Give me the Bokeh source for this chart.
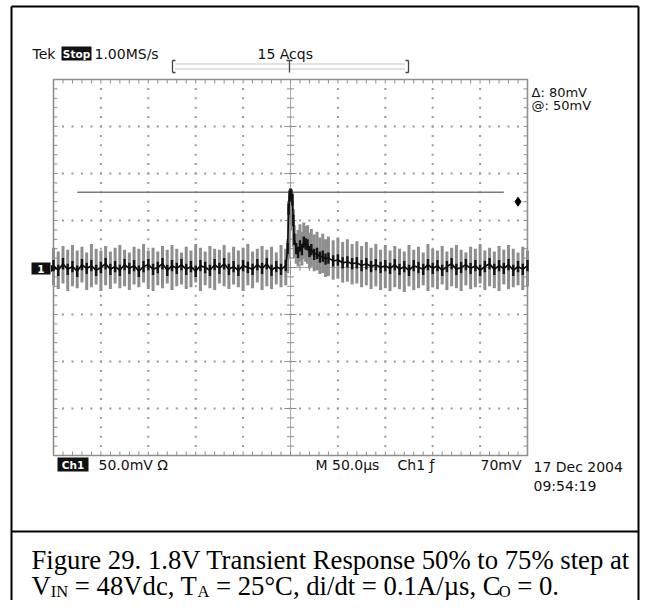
import math
from bokeh.plotting import figure
from bokeh.models import Range1d
from bokeh.core.properties import value
from bokeh.embed import file_html
from bokeh.resources import INLINE

# ---------------- data (time in microseconds, voltage in mV, 0 = Ch1 level) ----------------
pre_t = [-250, -245, -240, -235, -230, -225, -220, -215, -210, -205,
         -200, -195, -190, -185, -180, -175, -170, -165, -160, -155,
         -150, -145, -140, -135, -130, -125, -120, -115, -110, -105,
         -100, -95, -90, -85, -80, -75, -70, -65, -60, -55,
         -50, -45, -40, -35, -30, -25, -20, -15, -10, -5]
pre_hi = [21, 17, 23, 19, 24, 18, 22, 16, 25, 20, 18, 23, 17, 21, 24, 19, 16, 22, 20, 25,
          18, 21, 17, 23, 19, 24, 20, 16, 22, 18, 25, 21, 17, 23, 20, 19, 24, 16, 22, 18,
          21, 25, 17, 20, 23, 19, 22, 16, 24, 20]
pre_lo = [-19, -23, -17, -25, -20, -22, -16, -24, -21, -18, -25, -19, -23, -17, -22, -20, -24, -18, -21, -16,
          -23, -25, -19, -22, -17, -24, -20, -18, -23, -21, -16, -25, -19, -22, -24, -17, -20, -23, -18, -21,
          -25, -19, -22, -16, -24, -20, -23, -18, -21, -19]
pre_core = [2, -3, 4, -2, 1, -4, 3, -1, 2, -3, 0, 4, -2, 1, -3, 3, -1, 2, -4, 1,
            3, -2, 0, 4, -3, 2, -1, 3, -2, 1, -4, 2, 0, -3, 3, -1, 4, -2, 1, -3,
            2, 0, -2, 3, -1, 4, -3, 1, -2, 2]

post_t = [-3, -2, -1, 0, 1, 2, 3, 4, 6, 8, 10, 12, 14, 16, 18, 20, 22, 25, 28, 31, 34, 37, 40,
          45, 50, 55, 60, 65, 70, 75, 80, 85, 90, 95, 100, 105, 110, 115, 120, 125, 130, 135, 140,
          145, 150, 155, 160, 165, 170, 175, 180, 185, 190, 195, 200, 205, 210, 215, 220, 225, 230,
          235, 240, 245, 250]
post_hi = [30, 70, 82, 84, 82, 80, 62, 45, 36, 40, 46, 38, 48, 44, 45, 37, 41, 35, 38, 32, 36, 30, 33,
           29, 32, 27, 30, 25, 28, 23, 27, 21, 25, 19, 24, 18, 23, 20, 17, 24, 19, 22, 16,
           25, 20, 18, 23, 17, 21, 24, 19, 16, 22, 20, 25, 18, 21, 17, 23, 19, 24, 20, 16, 22, 18]
post_lo = [-6, 10, 45, 60, 55, 40, 22, 10, 4, 1, 6, 2, 9, 6, 4, -1, 1, -4, -3, -7, -6, -10, -9,
           -13, -12, -16, -15, -18, -17, -21, -19, -23, -20, -24, -22, -25, -21, -23, -26, -20, -24, -22, -19,
           -25, -21, -23, -18, -24, -20, -22, -25, -19, -23, -21, -17, -24, -20, -22, -25, -18, -23, -21, -19, -24, -20]
post_core = [20, 62, 76, 78, 77, 72, 50, 30, 20, 16, 23, 19, 27, 25, 24, 17, 19, 14, 15, 11, 12, 9, 10,
             7, 8, 5, 6, 4, 5, 2, 4, 1, 3, 0, 2, -1, 3, -2, 1, -3, 2, 0, -2,
             3, -1, 2, -3, 1, 4, -2, 0, 3, -1, 2, -3, 1, 4, -2, 2, -1, 3, -3, 1, -2, 2]

cursor_mv = 80            # horizontal cursor (Delta: 80mV)
cursor_t = [-225, 225]
trigger_mv = 70           # trigger level marker
trigger_marker_t = 240

header_texts = ["Tek", "1.00MS/s", "15 Acqs"]
cursor_texts = ["\u0394: 80mV", "@: 50mV"]
footer_texts = ["50.0mV \u03a9", "M 50.0\u00b5s", "Ch1 \u0192", "70mV"]
date_texts = ["17 Dec 2004", "09:54:19"]
caption_line1 = "Figure 29. 1.8V Transient Response 50% to 75% step at"
caption_line2 = [("V", 0), ("IN", 1), (" = 48Vdc, T", 0), ("A", 1),
                 (" = 25\u00b0C, di/dt = 0.1A/\u00b5s, C", 0), ("O", 1), (" = 0.", 0)]

t_us = pre_t + post_t
v_hi = pre_hi + post_hi
v_lo = pre_lo + post_lo
v_core = pre_core + post_core

# ---------------- layout helpers (picture pixels -> data units) ----------------
W, H = 640, 600
GX0, GX1, GY0, GY1 = 53, 527, 79, 455
DX = 500 / (GX1 - GX0)
DY = 400 / (GY1 - GY0)


def X(px):
    return -250 + (px - GX0) * DX


def Y(py):
    return 200 - (py - GY0) * DY


p = figure(width=W, height=H, output_backend="svg", toolbar_location=None,
           x_range=Range1d(X(0), X(W)), y_range=Range1d(Y(H), Y(0)),
           x_axis_type=None, y_axis_type=None, min_border=0, title=None)
p.outline_line_color = None
p.background_fill_color = "white"
p.border_fill_color = "white"
p.xgrid.visible = False
p.ygrid.visible = False

GRID = "#9a9a9a"

# outer border (open at the bottom) and caption divider
p.segment(x0=[X(11), X(11), X(638)], y0=[Y(6), Y(6), Y(6)],
          x1=[X(638), X(11), X(638)], y1=[Y(6), Y(600), Y(600)],
          line_color="black", line_width=2)
p.segment(x0=[X(11)], y0=[Y(531)], x1=[X(638)], y1=[Y(531)], line_color="black", line_width=2)

# scope graticule: dotted division lines
dot_x, dot_y = [], []
for k in (-200, -150, -100, -50, 50, 100, 150, 200):
    for j in range(-19, 20):
        dot_x.append(k)
        dot_y.append(j * 10)
for k in (-150, -100, -50, 50, 100, 150):
    for j in range(-24, 25):
        dot_x.append(j * 10)
        dot_y.append(k)
p.scatter(dot_x, dot_y, marker="square", size=2, fill_color=GRID, line_color=None)

# center cross with minor ticks
p.segment(x0=[0, -250], y0=[-200, 0], x1=[0, 250], y1=[200, 0], line_color="#aaaaaa", line_width=1)
tx0, ty0, tx1, ty1 = [], [], [], []
for j in range(-19, 20):
    h = 6 if j % 5 == 0 else 3.5
    tx0.append(-h * DX); tx1.append(h * DX); ty0.append(j * 10); ty1.append(j * 10)
for j in range(-24, 25):
    h = 6 if j % 5 == 0 else 3.5
    tx0.append(j * 10); tx1.append(j * 10); ty0.append(-h * DY); ty1.append(h * DY)
# frame edge ticks
for j in range(-24, 25):
    tx0 += [j * 10, j * 10]; tx1 += [j * 10, j * 10]
    ty0 += [200, -200]; ty1 += [200 - 4 * DY, -200 + 4 * DY]
for j in range(-19, 20):
    tx0 += [-250, 250]; tx1 += [-250 + 4 * DX, 250 - 4 * DX]
    ty0 += [j * 10, j * 10]; ty1 += [j * 10, j * 10]
p.segment(x0=tx0, y0=ty0, x1=tx1, y1=ty1, line_color="#8e8e8e", line_width=1)
p.quad(left=[-250], right=[250], bottom=[-200], top=[200], fill_alpha=0,
       line_color="#8f8f8f", line_width=1.6)

# cursor and trigger marker
p.line(cursor_t, [cursor_mv, cursor_mv], line_color="#7a7a7a", line_width=1.5)
p.scatter([trigger_marker_t], [trigger_mv], marker="diamond", size=9, fill_color="black", line_color="black")

# waveform: grey persistence spikes, dark core
p.segment(x0=t_us, y0=v_lo, x1=t_us, y1=v_hi, line_color="#8e8e8e", line_width=3.0)
p.segment(x0=t_us, y0=[c - 6 for c in v_core], x1=t_us, y1=[c + 6 for c in v_core],
          line_color="#141414", line_width=2.4)
p.line(t_us, v_core, line_color="#0d0d0d", line_width=1.6)

# trigger-position bracket above the screen
bx0, bx1, bt = X(172), X(408), X(289)
p.segment(x0=[bx0 + DX * 3, bx0 + DX * 3], y0=[Y(63.5), Y(68.5)], x1=[bx1 - DX * 3, bx1 - DX * 3],
          y1=[Y(63.5), Y(68.5)], line_color="#8a8a8a", line_width=1, line_dash="1 1")
p.segment(x0=[bx0, bx0, bx0, bx1, bx1, bx1, bt, bt - 3 * DX],
          y0=[Y(60), Y(60), Y(72), Y(60), Y(60), Y(72), Y(60), Y(60)],
          x1=[bx0, bx0 + 3 * DX, bx0 + 3 * DX, bx1, bx1 - 3 * DX, bx1 - 3 * DX, bt, bt + 3 * DX],
          y1=[Y(72), Y(60), Y(72), Y(72), Y(60), Y(72), Y(72), Y(60)],
          line_color="#444444", line_width=1.3)

SCOPE_FONT = value("DejaVu Sans")
TXT = "#111111"

# inverted label boxes
p.quad(left=[X(61), X(57), X(31)], right=[X(91), X(88), X(50)],
       bottom=[Y(60), Y(471), Y(274)], top=[Y(46), Y(457), Y(262)],
       fill_color="#111111", line_color=None)
p.scatter([X(52.5)], [Y(268)], marker="triangle", angle=-math.pi / 2, size=7,
          fill_color="#111111", line_color=None)
p.text(x=[X(76), X(72.5), X(40.5)], y=[Y(53), Y(464), Y(268)], text=["Stop", "Ch1", "1"],
       text_font=SCOPE_FONT, text_font_size=value("10.5px"), text_font_style="bold",
       text_color="white", text_baseline="middle", text_align="center")

p.text(x=[X(32), X(94), X(257)], y=[Y(53)] * 3, text=header_texts,
       text_font=SCOPE_FONT, text_font_size=value("14px"), text_color=TXT,
       text_baseline="middle", text_align="left")
p.text(x=[X(531), X(531)], y=[Y(92), Y(105)], text=cursor_texts,
       text_font=SCOPE_FONT, text_font_size=value("13px"), text_color=TXT,
       text_baseline="middle", text_align="left")
p.text(x=[X(98), X(315), X(397), X(480)], y=[Y(464)] * 4, text=footer_texts,
       text_font=SCOPE_FONT, text_font_size=value("14px"), text_color=TXT,
       text_baseline="middle", text_align="left")
p.text(x=[X(533), X(533)], y=[Y(466), Y(485)], text=date_texts,
       text_font=SCOPE_FONT, text_font_size=value("14px"), text_color=TXT,
       text_baseline="middle", text_align="left")

# caption
CAP_FONT = value("Liberation Serif")
MAIN, SUB = 26.7, 16.5
TW = {' ': 0.25, '=': 0.564, '4': 0.5, '8': 0.5, 'V': 0.722, 'd': 0.5, 'c': 0.444, ',': 0.25,
      'T': 0.611, '2': 0.5, '5': 0.5, '\u00b0': 0.4, 'C': 0.667, 'i': 0.278, '/': 0.278, 't': 0.278,
      '0': 0.5, '.': 0.25, '1': 0.5, 'A': 0.722, '\u00b5': 0.5, 's': 0.389, 'I': 0.333, 'N': 0.722,
      'O': 0.722}
p.text(x=[X(31)], y=[Y(559)], text=[caption_line1], text_font=CAP_FONT,
       text_font_size=value(f"{MAIN}px"), text_color="black", text_baseline="middle")
cx = 31.0
for seg, is_sub in caption_line2:
    size = SUB if is_sub else MAIN
    mid = 591 if is_sub else 585
    lead = len(seg) - len(seg.lstrip(" "))
    p.text(x=[X(cx + lead * TW[' '] * size)], y=[Y(mid)], text=[seg.strip(" ")], text_font=CAP_FONT,
           text_font_size=value(f"{size}px"), text_color="black", text_baseline="middle")
    cx += sum(TW.get(ch, 0.5) for ch in seg) * size

open("out.html", "w").write(file_html(p, INLINE))
